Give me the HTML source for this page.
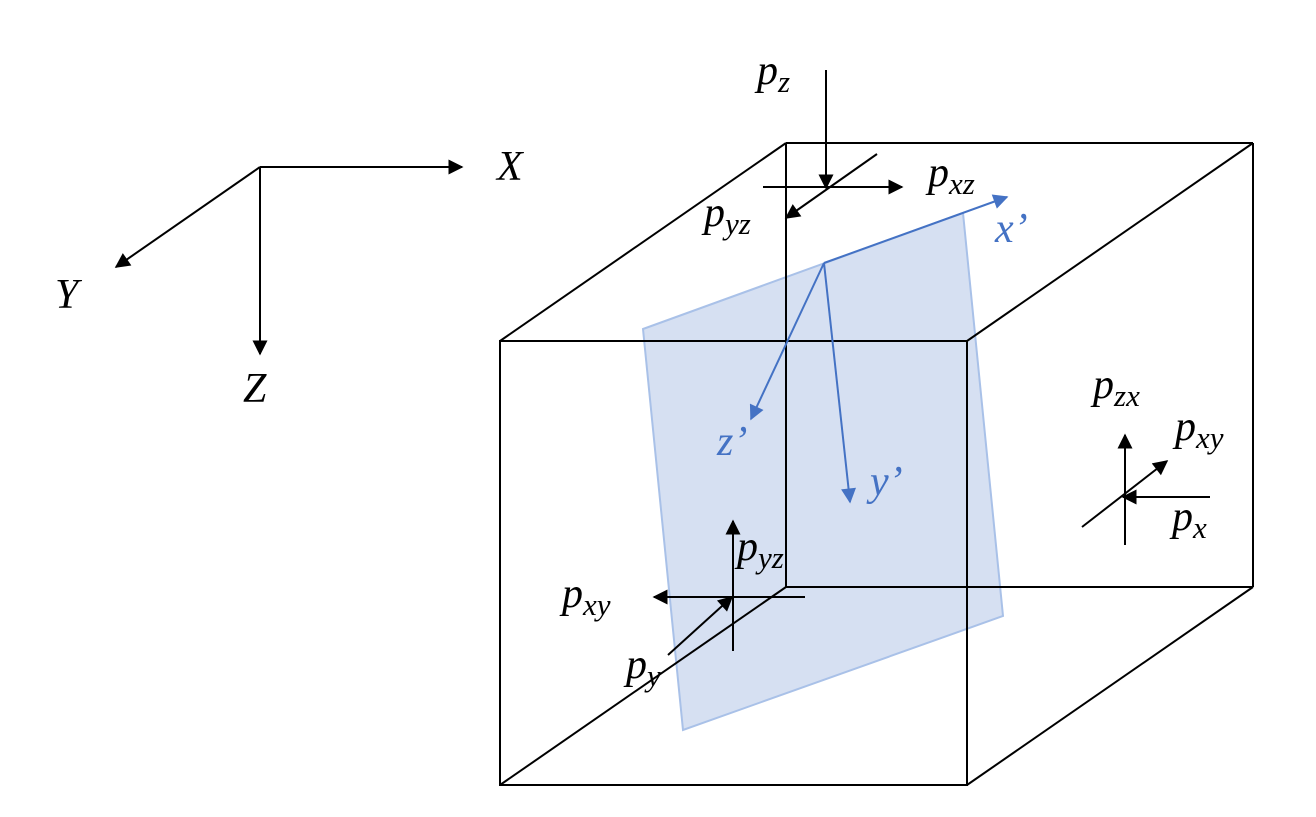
<!DOCTYPE html>
<html><head><meta charset="utf-8"><style>
html,body{margin:0;padding:0;background:#fff;}
svg{display:block;}
text{font-family:"Liberation Serif",serif;font-style:italic;}
.p{font-size:42px;}
.s{font-size:31px;}
</style></head><body>
<svg width="1316" height="817" viewBox="0 0 1316 817" xmlns="http://www.w3.org/2000/svg">
<defs>
<marker id="a" viewBox="0 0 10 10" refX="9" refY="5" markerWidth="8.5" markerHeight="7.5" orient="auto" markerUnits="strokeWidth"><path d="M0,0 L10,5 L0,10 z" fill="#000"/></marker>
<marker id="b" viewBox="0 0 10 10" refX="9" refY="5" markerWidth="8.5" markerHeight="7.5" orient="auto" markerUnits="strokeWidth"><path d="M0,0 L10,5 L0,10 z" fill="#4472c4"/></marker>
</defs>
<polygon points="643,329 963,213 1003,616 683,730" fill="#d6e0f2" stroke="#a9c1e8" stroke-width="2"/>
<g stroke="#000" stroke-width="2" fill="none">
<line x1="260" y1="167" x2="462" y2="167" marker-end="url(#a)"/>
<line x1="260" y1="167" x2="116" y2="267" marker-end="url(#a)"/>
<line x1="260" y1="167" x2="260" y2="354" marker-end="url(#a)"/>
<line x1="786" y1="143" x2="1253" y2="143"/>
<line x1="1253" y1="143" x2="1253" y2="587"/>
<line x1="786" y1="143" x2="786" y2="587"/>
<line x1="786" y1="587" x2="1253" y2="587"/>
<line x1="500" y1="341" x2="786" y2="143"/>
<line x1="967" y1="341" x2="1253" y2="143"/>
<line x1="967" y1="785" x2="1253" y2="587"/>
<line x1="500" y1="785" x2="786" y2="587"/>
<rect x="500" y="341" width="467" height="444"/>
<line x1="826" y1="70" x2="826" y2="188" marker-end="url(#a)"/>
<line x1="763" y1="187" x2="902" y2="187" marker-end="url(#a)"/>
<line x1="877" y1="154" x2="786" y2="218" marker-end="url(#a)"/>
<line x1="733" y1="651" x2="733" y2="521" marker-end="url(#a)"/>
<line x1="805" y1="597" x2="654" y2="597" marker-end="url(#a)"/>
<line x1="668" y1="655" x2="732" y2="597" marker-end="url(#a)"/>
<line x1="1125" y1="545" x2="1125" y2="435" marker-end="url(#a)"/>
<line x1="1210" y1="497" x2="1123" y2="497" marker-end="url(#a)"/>
<line x1="1082" y1="527" x2="1167" y2="461" marker-end="url(#a)"/>
</g>
<g stroke="#4472c4" stroke-width="2" fill="none">
<line x1="824" y1="263" x2="1007" y2="197" marker-end="url(#b)"/>
<line x1="824" y1="263" x2="751" y2="419" marker-end="url(#b)"/>
<line x1="824" y1="263" x2="850" y2="502" marker-end="url(#b)"/>
</g>
<g fill="#000">
<text x="497" y="180" class="p">X</text>
<text x="55" y="308" class="p">Y</text>
<text x="243" y="402" class="p">Z</text>
<text x="757" y="84" class="p">p<tspan class="s" dy="8">z</tspan></text>
<text x="928" y="186" class="p">p<tspan class="s" dy="8">xz</tspan></text>
<text x="704" y="226" class="p">p<tspan class="s" dy="8">yz</tspan></text>
<text x="1093" y="398" class="p">p<tspan class="s" dy="8">zx</tspan></text>
<text x="1175" y="440" class="p">p<tspan class="s" dy="8">xy</tspan></text>
<text x="1172" y="530" class="p">p<tspan class="s" dy="8">x</tspan></text>
<text x="737" y="560" class="p">p<tspan class="s" dy="8">yz</tspan></text>
<text x="562" y="607" class="p">p<tspan class="s" dy="8">xy</tspan></text>
<text x="626" y="678" class="p">p<tspan class="s" dy="8">y</tspan></text>
</g>
<g fill="#4472c4">
<text x="995" y="242" class="p">x’</text>
<text x="717" y="455" class="p">z’</text>
<text x="870" y="495" class="p">y’</text>
</g>
</svg>
</body></html>
